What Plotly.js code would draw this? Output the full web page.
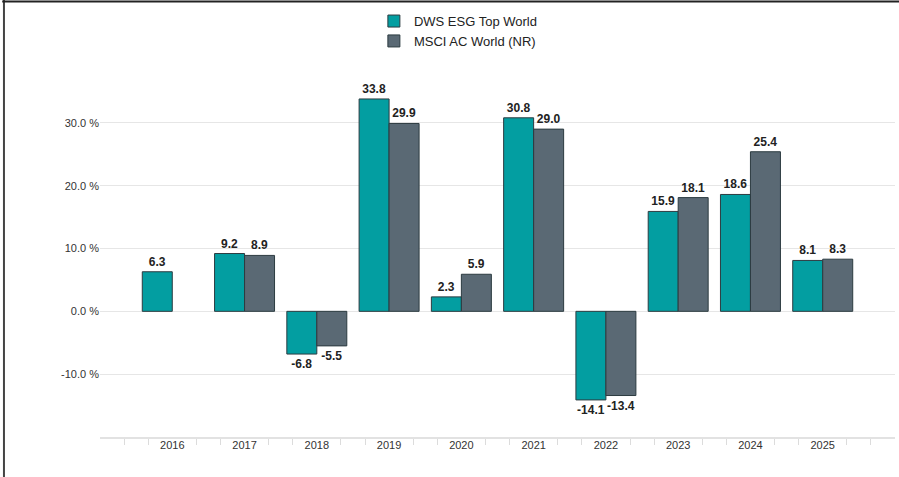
<!DOCTYPE html>
<html>
<head>
<meta charset="utf-8">
<script src="https://cdn.plot.ly/plotly-3.0.1.min.js"></script>
<style>
html,body{margin:0;padding:0;background:#fff;}
#chart{width:899px;height:477px;}
</style>
</head>
<body>
<div id="chart"></div>
<script>
const categories = ['2016','2017','2018','2019','2020','2021','2022','2023','2024','2025'];
const dwsValues = [6.3, 9.2, -6.8, 33.8, 2.3, 30.8, -14.1, 15.9, 18.6, 8.1];
const msciValues = [null, 8.9, -5.5, 29.9, 5.9, 29.0, -13.4, 18.1, 25.4, 8.3];
const seriesNames = ['DWS ESG Top World', 'MSCI AC World (NR)'];
const yTickVals = [-20, -10, 0, 10, 20, 30, 40];
const yTickText = ['', '-10.0 %', '0.0 %', '10.0 %', '20.0 %', '30.0 %', ''];

const xIdx = categories.map((c, i) => i);
const minorTicks = [];
for (let k = -1; k <= 10; k++) { minorTicks.push(k - 1/3); minorTicks.push(k + 1/3); }

const textFont = {family: 'Liberation Sans, Arial, sans-serif', size: 12, color: '#222', weight: 'bold'};

const traces = [
  {
    type: 'bar', name: seriesNames[0], x: xIdx, y: dwsValues,
    marker: {color: '#039ea1', line: {color: '#2c3b40', width: 1}},
    texttemplate: '%{y:.1f}', textposition: 'outside', textfont: textFont,
    cliponaxis: false, hoverinfo: 'none'
  },
  {
    type: 'bar', name: seriesNames[1], x: xIdx, y: msciValues,
    marker: {color: '#5a6974', line: {color: '#2c3b40', width: 1}},
    texttemplate: '%{y:.1f}', textposition: 'outside', textfont: textFont,
    cliponaxis: false, hoverinfo: 'none'
  }
];

const layout = {
  width: 899, height: 477,
  margin: {l: 100, r: 4, t: 60, b: 40},
  paper_bgcolor: '#fff', plot_bgcolor: '#fff',
  font: {family: 'Liberation Sans, Arial, sans-serif', size: 11, color: '#333'},
  barmode: 'group', bargap: 0.17, bargroupgap: 0,
  showlegend: true,
  legend: {
    orientation: 'v', x: 0.3445, xanchor: 'left', y: 1.143, yanchor: 'top',
    font: {size: 13, color: '#222'}, bgcolor: 'rgba(0,0,0,0)', traceorder: 'normal'
  },
  xaxis: {
    type: 'linear', range: [-1, 10], tickmode: 'array', tickvals: minorTicks,
    showticklabels: false, ticks: 'outside', ticklen: 6, tickcolor: '#dcdcdc', tickwidth: 1,
    showgrid: false, zeroline: false, showline: true, linecolor: '#e2e2e2', linewidth: 2,
    fixedrange: true
  },
  xaxis2: {
    type: 'linear', overlaying: 'x', matches: 'x', side: 'bottom', anchor: 'y',
    range: [-1, 10], tickmode: 'array', tickvals: xIdx, ticktext: categories,
    ticks: '', showgrid: false, zeroline: false, showline: false,
    tickfont: {size: 11, color: '#333'}
  },
  yaxis: {
    range: [-20, 40], tickmode: 'array', tickvals: yTickVals, ticktext: yTickText,
    showgrid: true, gridcolor: '#e6e6e6', gridwidth: 1, zeroline: false,
    showline: false, ticks: '', tickfont: {size: 11, color: '#333'}, fixedrange: true
  },
  shapes: [
    {type: 'line', xref: 'paper', yref: 'paper', x0: -0.1208, x1: -0.1208, y0: -0.11, y1: 1.16,
     line: {color: '#444', width: 2}},
    {type: 'line', xref: 'paper', yref: 'paper', x0: -0.123, x1: 1.006, y0: 1.155, y1: 1.155,
     line: {color: '#222', width: 2}}
  ]
};

// invisible trace on xaxis2 so its labels render
traces.push({type: 'scatter', x: xIdx, y: xIdx.map(() => null), xaxis: 'x2', yaxis: 'y',
  showlegend: false, hoverinfo: 'none', mode: 'markers'});

Plotly.newPlot('chart', traces, layout, {displayModeBar: false, staticPlot: true});
</script>
</body>
</html>
